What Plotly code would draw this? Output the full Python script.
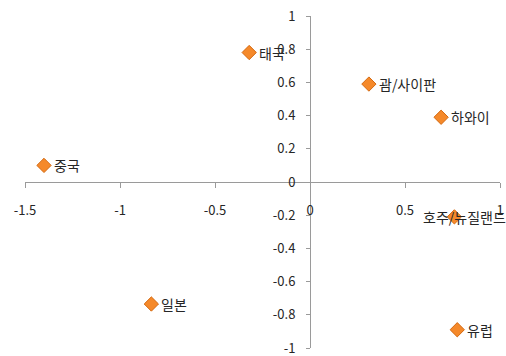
import plotly.graph_objects as go

# Destination positioning map (two-dimensional coordinates)
places = ["중국", "태국", "괌/사이판", "하와이", "호주/뉴질랜드", "일본", "유럽"]
dim1 = [-1.40, -0.32, 0.31, 0.69, 0.76, -0.835, 0.775]
dim2 = [0.10, 0.78, 0.59, 0.39, -0.21, -0.735, -0.89]
# labels sit right of their marker, except the one pushed back by the plot edge
label_shift = [8, 8, 8, 8, 10, 8, 8]
label_anchor = ["left", "left", "left", "left", "center", "left", "left"]

x_ticks = [-1.5, -1, -0.5, 0, 0.5, 1]
x_tick_text = ["-1.5", "-1", "-0.5", "0", "0.5", "1"]
y_ticks = [-1, -0.8, -0.6, -0.4, -0.2, 0, 0.2, 0.4, 0.6, 0.8, 1]
y_tick_text = ["-1", "-0.8", "-0.6", "-0.4", "-0.2", "0", "0.2", "0.4", "0.6", "0.8", "1"]

font_family = "Noto Sans CJK KR, Noto Sans, sans-serif"
axis_color = "#9a9a9a"

fig = go.Figure(
    go.Scatter(
        x=dim1,
        y=dim2,
        mode="markers",
        marker=dict(symbol="diamond", size=11, color="#F5892A",
                    line=dict(color="#D46A12", width=1)),
        cliponaxis=False,
        hoverinfo="skip",
    )
)

for name, xv, yv, sh, anc in zip(places, dim1, dim2, label_shift, label_anchor):
    fig.add_annotation(
        x=xv, y=yv, xref="x", yref="y",
        text=name, showarrow=False,
        xanchor=anc, yanchor="middle",
        xshift=sh,
        font=dict(family=font_family, size=14, color="#262626"),
    )

fig.update_layout(
    width=506,
    height=356,
    margin=dict(l=25, r=6, t=16, b=8, autoexpand=False),
    paper_bgcolor="white",
    plot_bgcolor="white",
    showlegend=False,
    font=dict(family=font_family, size=13, color="#262626"),
)

# Axes cross at the origin
fig.update_xaxes(
    range=[-1.5, 1],
    tickvals=x_ticks,
    ticktext=x_tick_text,
    anchor="free",
    position=0.5,
    automargin=False,
    showgrid=False,
    zeroline=False,
    showline=True,
    linecolor=axis_color,
    linewidth=1,
    ticks="outside",
    ticklen=5,
    tickcolor=axis_color,
    ticklabelstandoff=11,
    ticklabeloverflow="allow",
    tickfont=dict(size=13, color="#262626"),
)
fig.update_yaxes(
    range=[-1, 1],
    tickvals=y_ticks,
    ticktext=y_tick_text,
    anchor="free",
    position=0.6,
    automargin=False,
    showgrid=False,
    zeroline=False,
    showline=True,
    linecolor=axis_color,
    linewidth=1,
    ticks="outside",
    ticklen=4,
    tickcolor=axis_color,
    ticklabelstandoff=8,
    ticklabeloverflow="allow",
    tickfont=dict(size=13, color="#262626"),
)

fig.write_html("out.html")
